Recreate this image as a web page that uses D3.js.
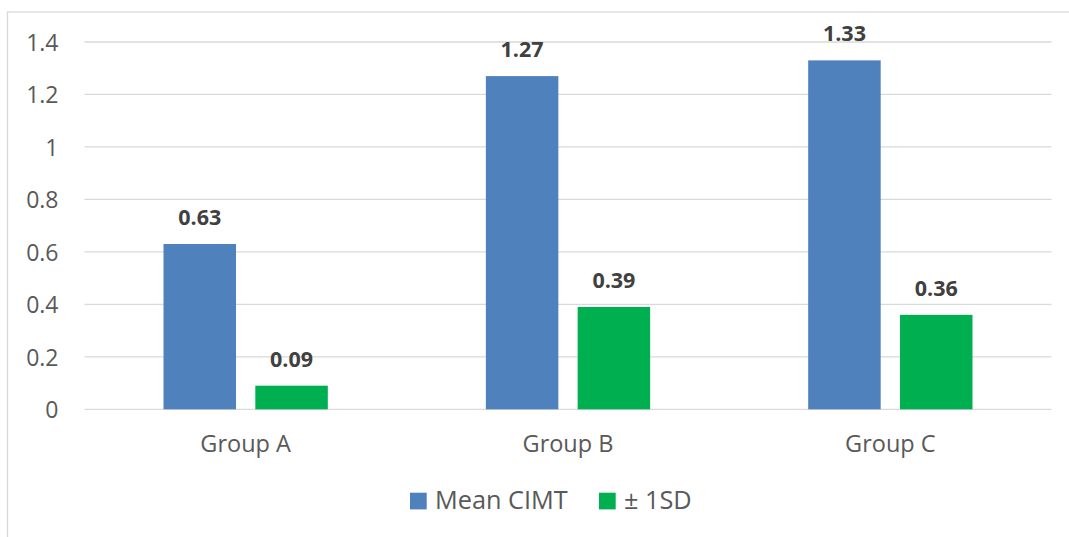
<!DOCTYPE html>
<html>
<head>
<meta charset="utf-8">
<script src="https://cdn.jsdelivr.net/npm/d3@7/dist/d3.min.js"></script>
<style>
  html, body { margin: 0; padding: 0; background: #fff; }
  svg { display: block; font-family: "Open Sans", "Noto Sans", sans-serif; }
</style>
</head>
<body>
<svg id="chart" width="1069" height="537"></svg>
<script>
// Mean CIMT and standard deviation by group
const categories = ["Group A", "Group B", "Group C"];
const seriesNames = ["Mean CIMT", "± 1SD"];
const meanCIMT = [0.63, 1.27, 1.33];
const sd = [0.09, 0.39, 0.36];
const yTicks = [0, 0.2, 0.4, 0.6, 0.8, 1, 1.2, 1.4];
const colors = ["#4F81BD", "#00B050"];

const svg = d3.select("#chart");
const W = 1069, H = 537;
const plot = { left: 84.5, right: 1051.5, top: 42, bottom: 409.3 };

// chart frame
svg.append("rect")
  .attr("x", 7.5).attr("y", 12)
  .attr("width", W + 10).attr("height", H + 10)
  .attr("fill", "#fff").attr("stroke", "#D9D9D9").attr("stroke-width", 1.3);

const x = d3.scaleBand().domain(categories).range([plot.left, plot.right]);
const bandW = x.bandwidth();
const barW = 72.5, gap = 19.3;
const inner = d3.scaleBand().domain(seriesNames).range([0, barW * 2 + gap]).paddingInner(gap / (barW + gap));

const y = d3.scaleLinear().domain([0, 1.4]).range([plot.bottom, plot.top]);

// gridlines
svg.append("g").selectAll("line").data(yTicks).join("line")
  .attr("x1", plot.left).attr("x2", plot.right)
  .attr("y1", d => y(d)).attr("y2", d => y(d))
  .attr("stroke", "#D9D9D9").attr("stroke-width", 1.3);

// y tick labels
const yAxis = d3.axisLeft(y).tickValues(yTicks).tickSize(0).tickPadding(0).tickFormat(d => String(d));
const yg = svg.append("g").attr("transform", "translate(58.5,0)").call(yAxis);
yg.select(".domain").remove();
yg.selectAll("text")
  .attr("font-family", "Open Sans").attr("font-size", 23).attr("fill", "#595959")
  .attr("dy", "0.36em");

// x category labels
const xAxis = d3.axisBottom(x).tickSize(0).tickPadding(0);
const xg = svg.append("g").attr("transform", `translate(0,${plot.bottom})`).call(xAxis);
xg.select(".domain").remove();
xg.selectAll("text")
  .attr("font-family", "Open Sans").attr("font-size", 23.5).attr("fill", "#595959")
  .attr("dy", null).attr("y", 42.4);

const series = [meanCIMT, sd];
const groupOffset = (bandW - (barW * 2 + gap)) / 2;

series.forEach((vals, si) => {
  const g = svg.append("g");
  const xs = (d, i) => x(categories[i]) + groupOffset + inner(seriesNames[si]);
  g.selectAll("rect").data(vals).join("rect")
    .attr("x", xs)
    .attr("y", d => y(d))
    .attr("width", inner.bandwidth())
    .attr("height", d => y(0) - y(d))
    .attr("fill", colors[si]);
  g.selectAll("text").data(vals).join("text")
    .attr("x", (d, i) => xs(d, i) + inner.bandwidth() / 2)
    .attr("y", d => y(d) - 19)
    .attr("text-anchor", "middle")
    .attr("font-family", "Open Sans").attr("font-weight", "bold")
    .attr("font-size", 21.5).attr("fill", "#404040")
    .text(d => d.toFixed(2));
});

// legend
const legendItems = [
  { name: seriesNames[0], color: colors[0], x: 410 },
  { name: seriesNames[1], color: colors[1], x: 599 }
];
const lg = svg.append("g");
legendItems.forEach(it => {
  lg.append("rect").attr("x", it.x).attr("y", 492.7).attr("width", 16.7).attr("height", 16.7).attr("fill", it.color);
  lg.append("text").attr("x", it.x + 25).attr("y", 509.3)
    .attr("font-family", "Open Sans").attr("font-size", 25.3).attr("fill", "#595959")
    .text(it.name);
});
</script>
</body>
</html>
